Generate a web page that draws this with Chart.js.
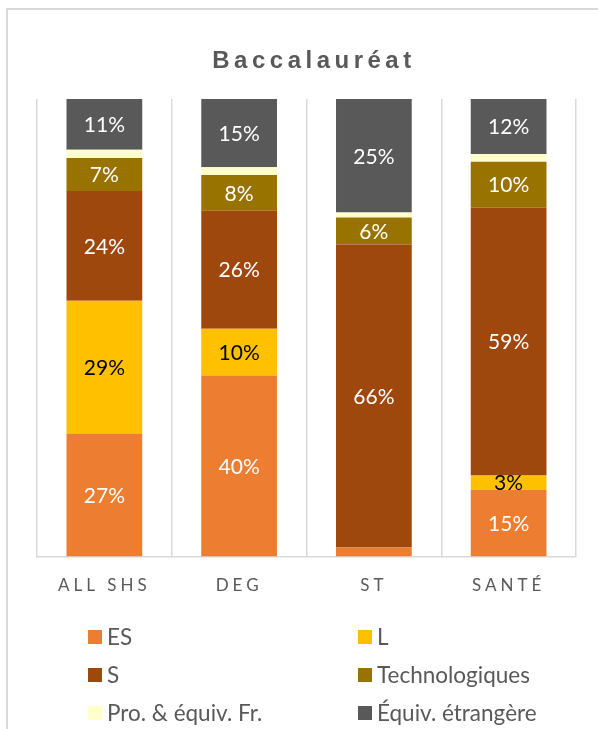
<!DOCTYPE html>
<html>
<head>
<meta charset="utf-8">
<script src="https://cdn.jsdelivr.net/npm/chart.js@4.4.0/dist/chart.umd.min.js"></script>
<style>
    body {
        margin: 0;
        width: 598px;
        height: 729px;
        overflow: hidden;
        background: #ffffff;
        position: relative;
    }
    .cadre {
        position: absolute;
        left: 6px;
        top: 8px;
        width: 700px;
        height: 800px;
        border: 2px solid #D9D9D9;
    }
    .divChart {
        position: absolute;
        left: 0;
        top: 0;
        width: 598px;
        height: 729px;
    }
</style>
</head>
<body>
<div class="cadre"></div>
<div class="divChart"><canvas id="myChart"></canvas></div>
<script>
const categories = ["ALL SHS", "DEG", "ST", "SANTÉ"];

const es = [26.9, 39.6, 2.0, 14.6];
const l = [29.0, 10.2, 0, 3.1];
const s = [24.0, 25.8, 66.2, 58.6];
const techno = [7.2, 7.8, 5.9, 10.0];
const pro = [1.8, 1.7, 1.1, 1.7];
const etrangere = [11.1, 14.9, 24.8, 12.0];

const series = ["ES", "L", "S", "Technologiques", "Pro. & équiv. Fr.", "Équiv. étrangère"];
const valeurs = [es, l, s, techno, pro, etrangere];
const couleurs = ["#ED7D31", "#FFC000", "#9E480E", "#997300", "#FFFFCC", "#595959"];
const couleursTexte = ["#FFFFFF", "#000000", "#FFFFFF", "#FFFFFF", "#000000", "#FFFFFF"];

const gris = "#595959"

const datasets = series.map((nom, i) => ({
    label: nom,
    data: valeurs[i],
    backgroundColor: couleurs[i],
    borderWidth: 0,
    barPercentage: 0.562,
    categoryPercentage: 1
}))

// etiquettes dans les barres
const etiquettes = {
    id: "etiquettes",
    afterDatasetsDraw(chart) {
        const ctx = chart.ctx;
        ctx.save();
        ctx.letterSpacing = "0px";
        ctx.font = "21px Lato";
        ctx.textAlign = "center";
        ctx.textBaseline = "middle";
        chart.data.datasets.forEach((ds, i) => {
            const meta = chart.getDatasetMeta(i);
            meta.data.forEach((bar, j) => {
                const v = ds.data[j];
                if (v < 2.5) return;
                const p = bar.getCenterPoint();
                ctx.fillStyle = couleursTexte[i];
                ctx.fillText(Math.round(v) + "%", p.x, p.y + 1);
            });
        });
        ctx.restore();
    }
}

// titre + legende en deux colonnes
const titreLegende = {
    id: "titreLegende",
    beforeDraw(chart) {
        chart.ctx.letterSpacing = "4px";
    },
    afterDraw(chart) {
        const ctx = chart.ctx;
        ctx.save();
        ctx.letterSpacing = "4.5px";
        ctx.font = "bold 24px 'Liberation Sans'";
        ctx.fillStyle = gris;
        ctx.textAlign = "center";
        ctx.textBaseline = "middle";
        ctx.fillText("Baccalauréat", 314, 61);

        ctx.letterSpacing = "0px";
        ctx.font = "22.5px Lato";
        ctx.textAlign = "left";
        const colX = [88, 358];
        const rowY = [637, 675, 713];
        chart.data.datasets.forEach((ds, i) => {
            const x = colX[i % 2];
            const y = rowY[Math.floor(i / 2)];
            ctx.fillStyle = ds.backgroundColor;
            ctx.fillRect(x, y - 7, 14, 14);
            ctx.fillStyle = gris;
            ctx.fillText(ds.label, x + 19, y + 1);
        });
        ctx.restore();
    }
}

const ctx = document.getElementById("myChart").getContext("2d");
const myChart = new Chart(ctx, {
    type: "bar",
    data: {
        labels: categories,
        datasets: datasets
    },
    options: {
        responsive: true,
        maintainAspectRatio: false,
        animation: false,
        layout: {
            padding: { left: 37, right: 22, top: 99, bottom: 114 }
        },
        scales: {
            x: {
                stacked: true,
                grid: {
                    display: true,
                    offset: true,
                    drawTicks: false,
                    color: "#D9D9D9",
                    lineWidth: 1.5
                },
                border: {
                    display: true,
                    color: "#D9D9D9",
                    width: 1.5
                },
                ticks: {
                    color: gris,
                    padding: 19,
                    font: { family: "Lato", size: 17 }
                }
            },
            y: {
                stacked: true,
                min: 0,
                max: 100,
                display: false
            }
        },
        plugins: {
            legend: { display: false },
            title: { display: false },
            tooltip: { enabled: false }
        }
    },
    plugins: [etiquettes, titreLegende]
});
</script>
</body>
</html>
